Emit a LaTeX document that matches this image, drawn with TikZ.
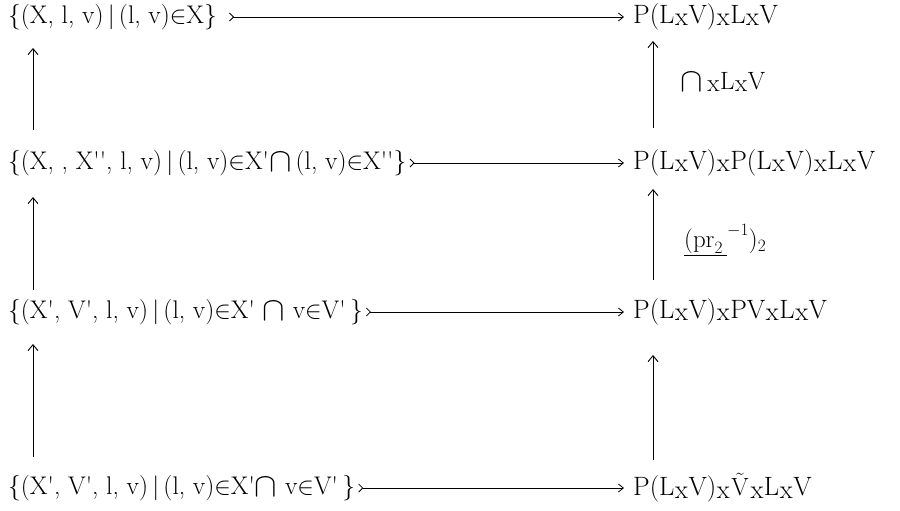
\documentclass[tikz,border=0pt]{standalone}
\usepackage{graphicx}
\usetikzlibrary{arrows.meta}
\newcommand{\tx}{\kern0.6pt\raisebox{-0.2ex}{x}\kern0.6pt}
\newcommand{\pq}{\textquotesingle}
\newcommand{\dq}{\textquotesingle\textquotesingle}
\newcommand{\bcap}{\raisebox{-0.15ex}{\scalebox{1.35}{$\cap$}}}
\begin{document}
\begin{tikzpicture}[x=1pt,y=-1pt,
  lbl/.style={anchor=west,inner sep=0pt,font=\fontsize{25.5}{30}\selectfont},
  rlbl/.style={anchor=west,inner sep=0pt,font=\fontsize{26.5}{30}\selectfont},
  side/.style={anchor=west,inner sep=0pt,font=\fontsize{25}{28}\selectfont},
  mono/.style={{Straight Barb[reversed,length=4pt,width=8pt]}-{Straight Barb[length=5pt,width=8pt]},line width=0.8pt},
  up/.style={-{Straight Barb[length=6pt,width=10pt]},line width=0.9pt}]
\useasboundingbox (0,0) rectangle (900,511);
% left column
\node[lbl] (l1) at (8,17) {\{(X, l, v)\,$|$\,(l, v)$\in$X\}};
\node[lbl] (l2) at (8,163) {\{(X, , X\dq, l, v)\,$|$\,(l, v)$\in$X\pq\bcap\,(l, v)$\in$X\dq\}};
\node[lbl] (l3) at (8,312) {\{(X\pq, V\pq, l, v)\,$|$\,(l, v)$\in$X\pq\ \bcap\ v$\in$V\pq\,\}};
\node[lbl] (l4) at (8,488) {\{(X\pq, V\pq, l, v)\,$|$\,(l, v)$\in$X\pq\bcap\ v$\in$V\pq\,\}};
% right column
\node[rlbl] (r1) at (633,17) {P(L\tx V)\tx L\tx V};
\node[rlbl] (r2) at (633,163) {P(L\tx V)\tx P(L\tx V)\tx L\tx V};
\node[rlbl] (r3) at (633,312) {P(L\tx V)\tx PV\tx L\tx V};
\node[rlbl] (r4) at (633,488) {P(L\tx V)\tx\kern1pt$\tilde{\mathrm{V}}$\kern1pt\tx L\tx V};
% horizontal arrows
\draw[mono] ([xshift=12pt]l1.east) -- ([xshift=-9pt]r1.west);
\draw[mono] ([xshift=3pt]l2.east) -- ([xshift=-9pt]r2.west);
\draw[mono] ([xshift=3pt]l3.east) -- ([xshift=-9pt]r3.west);
\draw[mono] ([xshift=3pt]l4.east) -- ([xshift=-9pt]r4.west);
% vertical arrow coordinates
\coordinate (la1) at (33,130); \coordinate (lb1) at (33,48);
\coordinate (la2) at (33,290); \coordinate (lb2) at (33,197);
\coordinate (la3) at (33,457); \coordinate (lb3) at (33,344);
\coordinate (ra1) at (653,128); \coordinate (rb1) at (653,41);
\coordinate (ra2) at (653,280); \coordinate (rb2) at (653,189);
\coordinate (ra3) at (653,460); \coordinate (rb3) at (653,355);
\draw[up] (la1) -- (lb1);
\draw[up] (la2) -- (lb2);
\draw[up] (la3) -- (lb3);
\draw[up] (ra1) -- (rb1);
\draw[up] (ra2) -- (rb2);
\draw[up] (ra3) -- (rb3);
% labels
\node[side] (m1) at (680,82) {\bcap\,\tx L\tx V};
\node[side] (m2) at (684,240) {$\underline{(\mathrm{pr}_{2}\,}^{-1})_{2}$};
\end{tikzpicture}
\end{document}
